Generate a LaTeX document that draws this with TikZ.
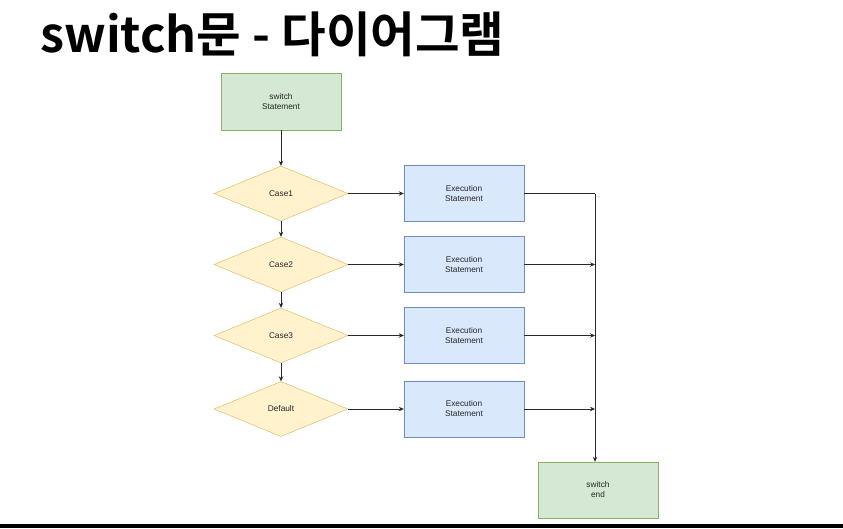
\documentclass[tikz,border=0pt]{standalone}
\usepackage{fontspec}
\setmainfont{Liberation Sans}
\newfontfamily\krfont{Noto Sans CJK KR Bold}
\usetikzlibrary{shapes.geometric,arrows.meta}
\definecolor{gfill}{HTML}{D5E8D4}
\definecolor{gline}{HTML}{82B366}
\definecolor{yfill}{HTML}{FFF2CC}
\definecolor{yline}{HTML}{D6B656}
\definecolor{bfill}{HTML}{DAE8FC}
\definecolor{bline}{HTML}{6C8EBF}
\definecolor{wire}{HTML}{2A2A2A}
\tikzset{
  lbl/.style={align=center,font=\fontsize{8.3}{10}\selectfont,text=black!85},
  gbox/.style={lbl,draw=gline,fill=gfill,minimum width=120pt,minimum height=57pt,inner sep=0pt},
  bbox/.style={lbl,draw=bline,fill=bfill,minimum width=120pt,minimum height=56pt,inner sep=0pt},
  ydia/.style={lbl,diamond,draw=yline,fill=yfill,minimum width=134pt,minimum height=55pt,inner sep=0pt,aspect=2.4},
  conn/.style={draw=wire,line width=0.8pt,-{Stealth[length=5pt,width=4.5pt]}},
  plain/.style={draw=wire,line width=0.8pt}
}
\begin{document}
\begin{tikzpicture}[x=1pt,y=-1pt]
\useasboundingbox (0,0) rectangle (843,528);
\fill[white] (0,0) rectangle (843,528);
\fill[black] (0,524) rectangle (843,528);
\node[anchor=base west,inner sep=0pt,font=\krfont\fontsize{48.5}{52}\selectfont] (title) at (40,52) {switch문 - 다이어그램};

\node[gbox] (start) at (281,101.5) {switch\\Statement};
\node[ydia] (c1) at (281,193.5) {Case1};
\node[ydia] (c2) at (281,264.5) {Case2};
\node[ydia] (c3) at (281,335.5) {Case3};
\node[ydia] (cd) at (281,409) {Default};
\node[bbox] (e1) at (464,193.5) {Execution\\Statement};
\node[bbox] (e2) at (464,264.5) {Execution\\Statement};
\node[bbox] (e3) at (464,335.5) {Execution\\Statement};
\node[bbox] (e4) at (464,409) {Execution\\Statement};
\node[gbox,minimum height=56pt] (endn) at (598,490) {switch\\end};

\coordinate (j1) at (595,193.5);
\coordinate (j2) at (595,264.5);
\coordinate (j3) at (595,335.5);
\coordinate (j4) at (595,409);

\draw[conn] (start) -- (c1);
\draw[conn] (c1) -- (c2);
\draw[conn] (c2) -- (c3);
\draw[conn] (c3) -- (cd);
\draw[conn] (c1.east) -- (e1.west);
\draw[conn] (c2.east) -- (e2.west);
\draw[conn] (c3.east) -- (e3.west);
\draw[conn] (cd.east) -- (e4.west);
\draw[plain] (e1.east) -- (j1);
\draw[conn] (j1) -- (j1 |- endn.north);
\draw[conn] (e2.east) -- (j2);
\draw[conn] (e3.east) -- (j3);
\draw[conn] (e4.east) -- (j4);
\end{tikzpicture}
\end{document}
